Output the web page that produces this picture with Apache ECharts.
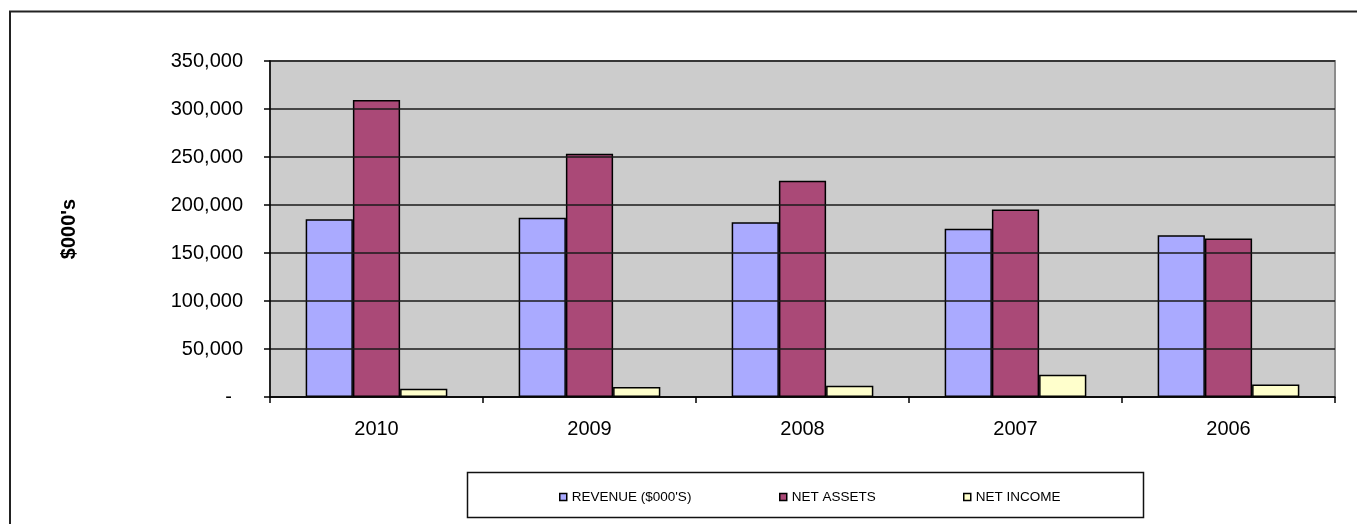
<!DOCTYPE html>
<html>
<head>
<meta charset="utf-8">
<script src="https://cdn.jsdelivr.net/npm/echarts@6/dist/echarts.min.js"></script>
<style>
html,body{margin:0;padding:0;background:#fff;}
#chart{width:1357px;height:524px;}
</style>
</head>
<body>
<div id="chart"></div>
<script>
const categories = ['2010', '2009', '2008', '2007', '2006'];
const revenue = [185100, 186800, 182100, 175200, 168600];
const netAssets = [309400, 253500, 225200, 195200, 165200];
const netIncome = [8600, 10400, 11700, 23100, 13100];
const seriesNames = ["REVENUE ($000'S)", 'NET ASSETS', 'NET INCOME'];
const yAxisTitle = "$000's";

const FONT = '"Liberation Sans", Arial, sans-serif';
const colors = ['#AAAAFF', '#AA4977', '#FFFFCC'];

const chart = echarts.init(document.getElementById('chart'), null, {renderer: 'canvas'});

function legendAt(name, left) {
  return {
    data: [name],
    left: left,
    top: 490,
    itemWidth: 7,
    itemHeight: 7,
    icon: 'rect',
    itemStyle: {borderColor: '#000', borderWidth: 1.5},
    textStyle: {fontFamily: FONT, fontSize: 13.5, color: '#000'},
    padding: 0
  };
}

const option = {
  animation: false,
  backgroundColor: '#fff',
  color: colors,
  grid: {
    left: 270, right: 22, top: 61, bottom: 127,
    show: true, backgroundColor: '#CCCCCC', borderColor: '#8C8C8C', borderWidth: 2
  },
  legend: [
    legendAt(seriesNames[0], 559),
    legendAt(seriesNames[1], 779),
    legendAt(seriesNames[2], 963)
  ],
  graphic: [
    {type: 'rect', silent: true, z: 0,
     shape: {x: 10, y: 11.5, width: 1400, height: 600},
     style: {fill: 'none', stroke: '#222', lineWidth: 2}},
    {type: 'rect', silent: true, z: 0,
     shape: {x: 467.5, y: 472.5, width: 676, height: 45},
     style: {fill: 'none', stroke: '#111', lineWidth: 1.5}}
  ],
  xAxis: {
    type: 'category',
    data: categories,
    boundaryGap: true,
    axisLine: {show: true, lineStyle: {color: '#000', width: 1.5}},
    axisTick: {show: true, length: 6, inside: false, lineStyle: {color: '#000', width: 1.5}},
    axisLabel: {fontFamily: FONT, fontSize: 20, color: '#000', margin: 22},
    splitLine: {show: false},
    z: 10
  },
  yAxis: {
    type: 'value',
    min: 0, max: 350000, interval: 50000,
    name: yAxisTitle,
    nameLocation: 'middle',
    nameRotate: 90,
    nameGap: 191,
    nameTextStyle: {fontFamily: FONT, fontSize: 20, fontWeight: 'bold', color: '#000'},
    axisLine: {show: true, lineStyle: {color: '#000', width: 1.5}},
    axisTick: {show: true, length: 6, lineStyle: {color: '#000', width: 1.5}},
    axisLabel: {
      fontFamily: FONT, fontSize: 20, color: '#000', margin: 27,
      formatter: function (v) { return v === 0 ? '-\u00a0\u00a0' : v.toLocaleString('en-US'); }
    },
    splitLine: {show: true, lineStyle: {color: '#1a1a1a', width: 1.5}},
    z: 10
  },
  series: [
    {name: seriesNames[0], type: 'bar', data: revenue, barGap: '0%', barCategoryGap: '33.5%',
     itemStyle: {color: colors[0], borderColor: '#000', borderWidth: 1.5}},
    {name: seriesNames[1], type: 'bar', data: netAssets, barGap: '0%', barCategoryGap: '33.5%',
     itemStyle: {color: colors[1], borderColor: '#000', borderWidth: 1.5}},
    {name: seriesNames[2], type: 'bar', data: netIncome, barGap: '0%', barCategoryGap: '33.5%',
     itemStyle: {color: colors[2], borderColor: '#000', borderWidth: 1.5}}
  ]
};
chart.setOption(option);
</script>
</body>
</html>
